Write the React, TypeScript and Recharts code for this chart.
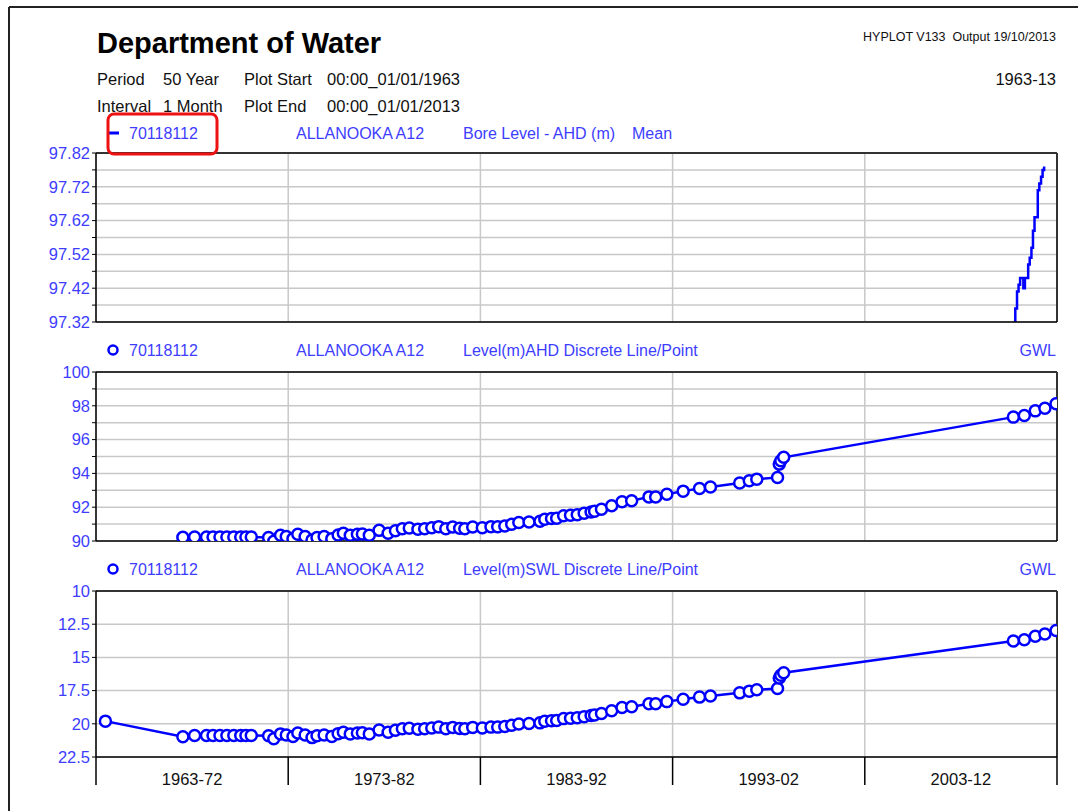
import { CartesianGrid, Line, LineChart, ReferenceLine, XAxis, YAxis } from "recharts";

const FONT = '"Liberation Sans", Arial, sans-serif';
const SERIES_BLUE = "#0000ff";
const TEXT_BLUE = "#3d3dff";
const GRID = "#c8c8c8";

const PAGE_W = 1078;
const PAGE_H = 811;
const PLOT_LEFT = 96;
const PLOT_RIGHT = 1057;
const HALF_DECADE = (PLOT_RIGHT - PLOT_LEFT) / 10;

// x axis
const decadeTicks = [1963, 1973, 1983, 1993, 2003, 2013];
const decadeLabels = ["1963-72", "1973-82", "1983-92", "1993-02", "2003-12"];

// top panel: monthly mean bore level (AHD)
const meanDates = [
    2010.75, 2010.83, 2010.92, 2011.0, 2011.08, 2011.17, 2011.25, 2011.33, 2011.42, 2011.5,
    2011.58, 2011.67, 2011.75, 2011.83, 2011.92, 2012.0, 2012.08, 2012.17, 2012.25, 2012.33,
];
const meanLevels = [
    97.32, 97.36, 97.41, 97.43, 97.45, 97.45, 97.42, 97.45, 97.45, 97.49,
    97.51, 97.54, 97.59, 97.63, 97.63, 97.71, 97.73, 97.75, 97.77, 97.78,
];
const meanTicks = [97.32, 97.37, 97.42, 97.47, 97.52, 97.57, 97.62, 97.67, 97.72, 97.77, 97.82];
const meanLabelTicks = [97.32, 97.42, 97.52, 97.62, 97.72, 97.82];

// discrete samples
const sampleDates = [
    1963.49, 1967.52, 1968.13, 1968.75, 1969.09, 1969.45, 1969.81, 1970.17, 1970.53, 1970.8, 1971.08,
    1971.98, 1972.25, 1972.6, 1972.9, 1973.25, 1973.5, 1973.88, 1974.24, 1974.5, 1974.87,
    1975.27, 1975.6, 1975.87, 1976.23, 1976.6, 1976.86, 1977.22, 1977.73, 1978.2, 1978.58,
    1978.94, 1979.3, 1979.75, 1980.1, 1980.47, 1980.83, 1981.2, 1981.56, 1981.92, 1982.19,
    1982.6, 1983.1, 1983.55, 1983.9, 1984.27, 1984.63, 1985.0, 1985.53, 1986.1, 1986.35,
    1986.7, 1986.97, 1987.33, 1987.69, 1988.04, 1988.4, 1988.76, 1988.94, 1989.3, 1989.83,
    1990.37, 1990.87, 1991.77, 1992.12, 1992.7, 1993.55, 1994.4, 1994.97, 1996.49, 1996.99,
    1997.38, 1998.46, 1998.55, 1998.63, 1998.78, 2010.73, 2011.3, 2011.87, 2012.37, 2012.95,
];
const ahdLevels = [
    null, 90.22, 90.24, 90.24, 90.24, 90.24, 90.24, 90.24, 90.24, 90.24, 90.24,
    90.2, 89.98, 90.34, 90.26, 90.14, 90.4, 90.26, 90.06, 90.2, 90.26,
    90.14, 90.36, 90.46, 90.34, 90.4, 90.42, 90.34, 90.63, 90.46, 90.61,
    90.73, 90.77, 90.69, 90.73, 90.79, 90.85, 90.73, 90.83, 90.75, 90.73,
    90.83, 90.79, 90.85, 90.85, 90.89, 90.99, 91.09, 91.13, 91.17, 91.29,
    91.33, 91.35, 91.49, 91.52, 91.56, 91.64, 91.72, 91.76, 91.88, 92.08,
    92.32, 92.38, 92.61, 92.61, 92.77, 92.95, 93.11, 93.19, 93.43, 93.56,
    93.66, 93.76, 94.55, 94.75, 94.95, 97.33, 97.43, 97.7, 97.86, 98.12,
];
const swlLevels = [
    19.8, 20.98, 20.88, 20.88, 20.88, 20.88, 20.88, 20.88, 20.88, 20.88, 20.88,
    20.9, 21.12, 20.76, 20.84, 20.96, 20.7, 20.84, 21.04, 20.9, 20.84,
    20.96, 20.74, 20.64, 20.76, 20.7, 20.68, 20.76, 20.47, 20.64, 20.49,
    20.37, 20.33, 20.41, 20.37, 20.31, 20.25, 20.37, 20.27, 20.35, 20.37,
    20.27, 20.31, 20.25, 20.25, 20.21, 20.11, 20.01, 19.97, 19.93, 19.81,
    19.77, 19.75, 19.61, 19.58, 19.54, 19.46, 19.38, 19.34, 19.22, 19.02,
    18.78, 18.72, 18.49, 18.49, 18.33, 18.15, 17.99, 17.91, 17.67, 17.54,
    17.44, 17.34, 16.55, 16.35, 16.15, 13.77, 13.67, 13.4, 13.24, 12.98,
];
const ahdTicks = [90, 91, 92, 93, 94, 95, 96, 97, 98, 99, 100];
const ahdLabelTicks = [90, 92, 94, 96, 98, 100];
const swlTicks = [10, 12.5, 15, 17.5, 20, 22.5];

const meanData = meanDates.map((t, i) => ({ t, v: meanLevels[i] }));
const ahdData = sampleDates.map((t, i) => ({ t, v: ahdLevels[i] }));
const swlData = sampleDates.map((t, i) => ({ t, v: swlLevels[i] }));

const DecadeTick = (props: any) => {
    const { x, y, index } = props;
    return (
        <g>
            <line x1={x} y1={y} x2={x} y2={y + 28} stroke="#000" strokeWidth={1.5} />
            {index < decadeLabels.length && (
                <text x={x + HALF_DECADE} y={y + 28} textAnchor="middle" fontSize={16.5} fontFamily={FONT} fill="#111">
                    {decadeLabels[index]}
                </text>
            )}
        </g>
    );
};

const NoTick = () => <g />;

interface PanelProps {
    plotTop: number;
    plotHeight: number;
    data: { t: number; v: number | null }[];
    yDomain: [number, number];
    yTicks: number[];
    yLabelTicks: number[];
    format: (v: number) => string;
    reversed?: boolean;
    dots?: boolean;
    stepped?: boolean;
    showDecades?: boolean;
}

const Panel = ({ plotTop, plotHeight, data, yDomain, yTicks, yLabelTicks, format, reversed, dots, stepped, showDecades }: PanelProps) => {
    const xAxisHeight = showDecades ? 40 : 12;
    const height = 12 + plotHeight + xAxisHeight;
    return (
        <div style={{ position: "absolute", left: 0, top: plotTop - 12 }}>
            <LineChart width={PAGE_W} height={height} data={data} margin={{ top: 12, right: PAGE_W - PLOT_RIGHT, bottom: 0, left: 0 }}>
                <CartesianGrid stroke={GRID} strokeWidth={1.5} />
                <XAxis
                    dataKey="t"
                    type="number"
                    domain={[1963, 2013]}
                    ticks={decadeTicks}
                    allowDataOverflow
                    height={xAxisHeight}
                    axisLine={{ stroke: "#000", strokeWidth: 1.5 }}
                    tickLine={false}
                    tickSize={0}
                    tickMargin={0}
                    tick={showDecades ? <DecadeTick /> : <NoTick />}
                    interval={0}
                />
                <YAxis
                    type="number"
                    width={PLOT_LEFT}
                    domain={yDomain}
                    ticks={yTicks}
                    reversed={reversed}
                    allowDataOverflow
                    interval={0}
                    axisLine={{ stroke: "#000", strokeWidth: 1.5 }}
                    tickLine={{ stroke: "#000" }}
                    tickSize={4}
                    tickMargin={2}
                    tick={{ fill: TEXT_BLUE, fontSize: 16.5, fontFamily: FONT }}
                    tickFormatter={(v: number) => (yLabelTicks.includes(v) ? format(v) : "")}
                />
                <ReferenceLine y={reversed ? yDomain[0] : yDomain[1]} stroke="#333" strokeWidth={2} />
                <ReferenceLine x={2013} stroke="#333" strokeWidth={2} />
                <Line
                    dataKey="v"
                    type={stepped ? "stepAfter" : "linear"}
                    stroke={SERIES_BLUE}
                    strokeWidth={2.5}
                    dot={dots ? { r: 5.5, stroke: SERIES_BLUE, strokeWidth: 2.5, fill: "#fff" } : false}
                    activeDot={false}
                    isAnimationActive={false}
                />
            </LineChart>
        </div>
    );
};

const txt = { fontFamily: FONT, fontSize: 16.5 };
const legendTxt = { fontFamily: FONT, fontSize: 16 };

const LegendRow = ({ y, marker, desc, extra }: { y: number; marker: "line" | "dot"; desc: string; extra: string }) => (
    <g fill={TEXT_BLUE} style={legendTxt}>
        {marker === "line" ? (
            <line x1={109} y1={y} x2={119} y2={y} stroke={SERIES_BLUE} strokeWidth={3} />
        ) : (
            <circle cx={113} cy={y} r={4.5} stroke={SERIES_BLUE} strokeWidth={2.5} fill="#fff" />
        )}
        <text x={129} y={y + 6}>70118112</text>
        <text x={296} y={y + 6}>ALLANOOKA A12</text>
        <text x={463} y={y + 6}>{desc}</text>
        {marker === "line" ? (
            <text x={632} y={y + 6}>{extra}</text>
        ) : (
            <text x={1056} y={y + 6} textAnchor="end">{extra}</text>
        )}
    </g>
);

const App = () => {
    return (
        <div style={{ position: "absolute", left: 0, top: 0, width: PAGE_W, height: PAGE_H, background: "#fff", overflow: "hidden" }}>
            <Panel
                plotTop={153}
                plotHeight={169}
                data={meanData}
                yDomain={[97.32, 97.82]}
                yTicks={meanTicks}
                yLabelTicks={meanLabelTicks}
                format={(v) => v.toFixed(2)}
                stepped
            />
            <Panel
                plotTop={372}
                plotHeight={169}
                data={ahdData}
                yDomain={[90, 100]}
                yTicks={ahdTicks}
                yLabelTicks={ahdLabelTicks}
                format={(v) => String(v)}
                dots
            />
            <Panel
                plotTop={591}
                plotHeight={166}
                data={swlData}
                yDomain={[10, 22.5]}
                yTicks={swlTicks}
                yLabelTicks={swlTicks}
                format={(v) => String(v)}
                reversed
                dots
                showDecades
            />
            <svg width={PAGE_W} height={PAGE_H} style={{ position: "absolute", left: 0, top: 0, pointerEvents: "none" }}>
                <line x1={9} y1={7} x2={PAGE_W} y2={7} stroke="#222" strokeWidth={2} />
                <line x1={9} y1={7} x2={9} y2={PAGE_H} stroke="#222" strokeWidth={2} />

                <text x={97} y={53} fontFamily={FONT} fontSize={29} fontWeight="bold" fill="#000">
                    Department of Water
                </text>
                <text x={1056} y={41} fontFamily={FONT} fontSize={12.5} fill="#111" textAnchor="end" xmlSpace="preserve">
                    {"HYPLOT V133  Output 19/10/2013"}
                </text>

                <g fill="#111" style={txt}>
                    <text x={97} y={85}>Period</text>
                    <text x={163} y={85}>50 Year</text>
                    <text x={244} y={85}>Plot Start</text>
                    <text x={327} y={85}>00:00_01/01/1963</text>
                    <text x={1056} y={85} textAnchor="end">1963-13</text>
                    <text x={97} y={112}>Interval</text>
                    <text x={163} y={112}>1 Month</text>
                    <text x={244} y={112}>Plot End</text>
                    <text x={327} y={112}>00:00_01/01/2013</text>
                </g>

                <LegendRow y={133} marker="line" desc="Bore Level - AHD (m)" extra="Mean" />
                <LegendRow y={350} marker="dot" desc="Level(m)AHD Discrete Line/Point" extra="GWL" />
                <LegendRow y={569} marker="dot" desc="Level(m)SWL Discrete Line/Point" extra="GWL" />

                <rect x={108} y={114} width={109} height={40} rx={6} fill="none" stroke="#ee1111" strokeWidth={3} />
            </svg>
        </div>
    );
};

export default App;
